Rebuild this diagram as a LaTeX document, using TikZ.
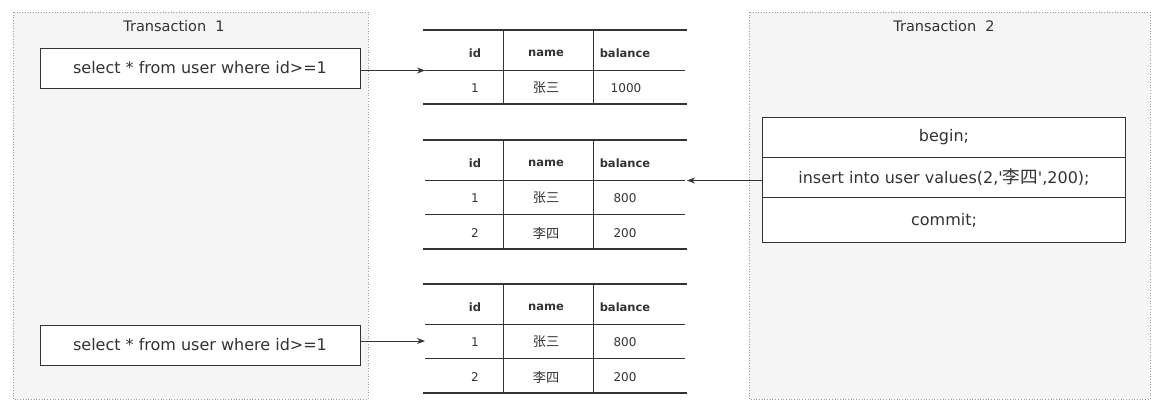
\documentclass[tikz,border=0pt]{standalone}
\usepackage{fontspec}
\setmainfont{DejaVu Sans}
\newfontfamily\cjk[Scale=1.1]{Noto Sans CJK SC}
\usetikzlibrary{arrows.meta}
\definecolor{txt}{HTML}{333333}
\definecolor{panelfill}{HTML}{F5F5F5}
\definecolor{panelline}{HTML}{9A9A9A}
\definecolor{lineclr}{HTML}{333333}
\begin{document}
\begin{tikzpicture}[x=1pt,y=-1pt,
  panel/.style={draw=panelline, dotted, fill=panelfill, line width=0.7pt},
  title/.style={text=txt, font=\fontsize{14.5}{17}\selectfont},
  sqlbox/.style={draw=lineclr, fill=white, line width=0.9pt, text=txt,
    font=\fontsize{16}{19}\selectfont, minimum width=320pt, minimum height=40pt, inner sep=0pt},
  stackrow/.style={draw=lineclr, fill=white, line width=0.9pt, text=txt,
    font=\fontsize{16}{19}\selectfont, minimum width=363pt, inner sep=0pt},
  cell/.style={text=txt, font=\fontsize{12}{15}\selectfont, inner sep=0pt},
  head/.style={cell, font=\fontsize{11.5}{15}\selectfont\bfseries},
  thickrule/.style={draw=lineclr, line width=2pt},
  thinrule/.style={draw=lineclr, line width=0.9pt},
  conn/.style={draw=lineclr, line width=0.9pt, -{Stealth[length=8pt,width=6pt]}}
]
\useasboundingbox (0,0) rectangle (1162,407);

% panels
\draw[panel] (13,12) rectangle (368,399);
\draw[panel] (749,12) rectangle (1150,399);
\node[title] (tr1) at (174,26) {Transaction\ \ 1};
\node[title] (tr2) at (944,26) {Transaction\ \ 2};

% transaction 1 queries
\node[sqlbox] (q1) at (200,68) {select * from user where id>=1};
\node[sqlbox] (q2) at (200,345) {select * from user where id>=1};

% transaction 2 stack
\node[stackrow, minimum height=40pt] (beg) at (944,137.5) {begin;};
\node[stackrow, minimum height=40pt] (ins) at (944,177.5) {insert into user values(2,\textquotesingle{\cjk 李四}\textquotesingle,200);};
\node[stackrow, minimum height=45pt] (com) at (944,220) {commit;};

% table 1
\draw[thickrule] (423,30) -- (687,30);
\draw[thinrule] (425,70.5) -- (685,70.5);
\draw[thickrule] (423,104) -- (687,104);
\draw[thinrule] (503,30) -- (503,104);
\draw[thinrule] (593,30) -- (593,104);
\coordinate (t1in) at (425,70.5);
\node[head] (t1a) at (475,53) {id};
\node[head] (t1b) at (546,53) {name};
\node[head] (t1c) at (625,53) {balance};
\node[cell] (t1d) at (475,88) {1};
\node[cell] (t1e) at (546,88) {\cjk 张三};
\node[cell] (t1f) at (626,88) {1000};

% table 2
\draw[thickrule] (423,140) -- (687,140);
\draw[thinrule] (425,180.5) -- (685,180.5);
\draw[thinrule] (425,214) -- (685,214);
\draw[thickrule] (423,249) -- (687,249);
\draw[thinrule] (503,140) -- (503,249);
\draw[thinrule] (593,140) -- (593,249);
\coordinate (t2in) at (687,180.5);
\node[head] (t2a) at (475,163) {id};
\node[head] (t2b) at (546,163) {name};
\node[head] (t2c) at (625,163) {balance};
\node[cell] (t2d) at (475,198) {1};
\node[cell] (t2e) at (546,198) {\cjk 张三};
\node[cell] (t2f) at (625,198) {800};
\node[cell] (t2g) at (475,233) {2};
\node[cell] (t2h) at (546,233) {\cjk 李四};
\node[cell] (t2i) at (625,233) {200};

% table 3
\draw[thickrule] (423,284) -- (687,284);
\draw[thinrule] (425,324.5) -- (685,324.5);
\draw[thinrule] (425,358.5) -- (685,358.5);
\draw[thickrule] (423,393) -- (687,393);
\draw[thinrule] (503,284) -- (503,393);
\draw[thinrule] (593,284) -- (593,393);
\coordinate (t3in) at (425,341);
\node[head] (t3a) at (475,307) {id};
\node[head] (t3b) at (546,307) {name};
\node[head] (t3c) at (625,307) {balance};
\node[cell] (t3d) at (475,342) {1};
\node[cell] (t3e) at (546,342) {\cjk 张三};
\node[cell] (t3f) at (625,342) {800};
\node[cell] (t3g) at (475,377) {2};
\node[cell] (t3h) at (546,377) {\cjk 李四};
\node[cell] (t3i) at (625,377) {200};

% connectors
\draw[conn] (q1.east |- t1in) -- (t1in);
\draw[conn] (ins.west |- t2in) -- (t2in);
\draw[conn] (q2.east |- t3in) -- (t3in);
\end{tikzpicture}
\end{document}
